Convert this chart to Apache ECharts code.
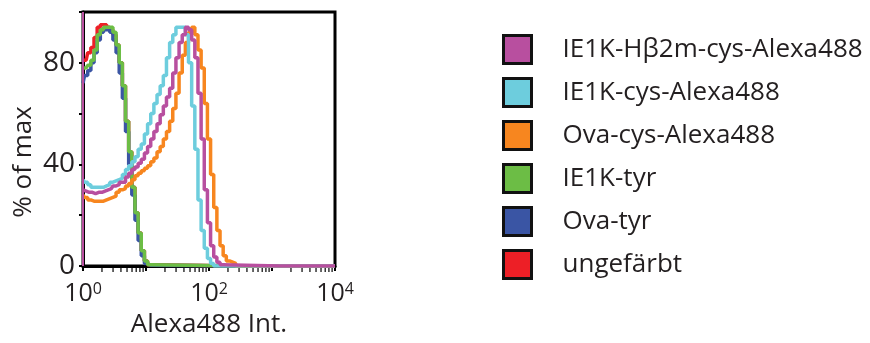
<!DOCTYPE html>
<html>
<head>
<meta charset="utf-8">
<script src="https://cdn.jsdelivr.net/npm/echarts@6/dist/echarts.min.js"></script>
<style>
  html, body { margin: 0; padding: 0; background: #fff; }
  #chart { width: 870px; height: 343px; }
</style>
</head>
<body>
<div id="chart"></div>
<script>
// histogram bins are spaced evenly in log10 units
const binsPerDecade = 20;
const xTickDecades = [0, 1, 2, 3, 4];
const minorTickMultipliers = [2, 3, 4, 5, 6, 7, 8, 9];

const ie1kHb2m = [30, 29.5, 29, 29, 28.5, 29, 29, 29.5, 30, 30.5, 31.5, 32, 33, 33, 35, 36.5, 38, 39, 40.5, 42,
  44.5, 47, 50, 53, 56, 59.5, 63, 66.5, 70, 76, 82, 88, 91, 94, 93, 89, 82, 68, 50, 30,
  17, 8, 3.5, 1.5, 0.5, 0];
const ie1kCys = [34, 33, 32, 31, 31, 31, 31, 31.5, 32, 33, 33.5, 34, 34.5, 36, 38, 39.5, 41, 43, 46, 48,
  52, 56, 60, 64, 67.5, 71, 75, 82, 88, 91, 94, 94, 94, 91, 80, 63, 46, 26, 14, 7,
  3, 1, 0];
const ovaCys = [28, 27, 26, 25.5, 25.5, 25.5, 25.5, 26, 26.5, 27, 27.5, 29, 30, 30.5, 31.5, 32.5, 34, 35.5, 36.5, 37.5,
  38.5, 39.5, 41, 42.5, 45, 47, 50, 53, 57, 62, 68, 76, 83, 88, 92, 94, 91, 85, 78, 64,
  50, 36, 23, 14, 8, 4, 2, 1.5, 1, 0];
const ie1kTyr = [78, 78, 79, 81, 85, 91, 93, 94, 94, 94, 92, 87, 80, 71, 57, 45, 31, 21, 13, 6,
  2, 0.5, 0];
const ovaTyr = [72, 75, 77, 80, 84, 89, 92, 93, 93, 92, 89, 84, 76, 66, 53, 40, 28, 18, 10, 4,
  1, 0.3, 0];
const ungefaerbt = [81, 81, 84, 86, 90, 94, 95, 95, 94, 93, 91, 87, 80, 71, 57, 45, 31, 21, 13, 6,
  2, 0.5, 0];

const colors = {
  magenta: "#b84f9f",
  cyan: "#6dcddd",
  orange: "#f7861f",
  green: "#6cbd45",
  blue: "#3a55a4",
  red: "#ed1f26",
};

const toPoints = (vals) =>
  vals.map((v, i) => [i / binsPerDecade, v]).concat([[xTickDecades[xTickDecades.length - 1], 0]]);

const minorTicks = [];
xTickDecades.slice(0, -1).forEach((d) => {
  minorTickMultipliers.forEach((m) => minorTicks.push([Math.log10(m) + d, 0]));
});

const histo = (name, vals, color, extra) =>
  Object.assign(
    {
      name,
      type: "line",
      step: "middle",
      data: toPoints(vals),
      showSymbol: false,
      symbol: "none",
      color,
      lineStyle: { color, width: 3.5 },
      itemStyle: { color },
      animation: false,
    },
    extra || {}
  );

const chart = echarts.init(document.getElementById("chart"));
const font = "'Open Sans', 'Noto Sans', sans-serif";
const ink = "#231f20";

chart.setOption({
  animation: false,
  textStyle: { fontFamily: font, color: ink },
  grid: {
    left: 83,
    right: 535,
    top: 12,
    bottom: 76,
    show: true,
    borderColor: "#000",
    borderWidth: 3,
  },
  legend: {
    orient: "vertical",
    left: 502,
    top: 34,
    padding: 0,
    itemWidth: 28,
    itemHeight: 28,
    itemGap: 12,
    icon: "rect",
    itemStyle: { borderColor: "#111", borderWidth: 3 },
    textStyle: { fontFamily: font, fontSize: 26, lineHeight: 28, color: ink, padding: [0, 0, 0, 26] },
    data: ["IE1K-Hβ2m-cys-Alexa488", "IE1K-cys-Alexa488", "Ova-cys-Alexa488", "IE1K-tyr", "Ova-tyr", "ungefärbt"],
  },
  xAxis: {
    type: "value",
    min: 0,
    max: 4,
    interval: 1,
    name: "Alexa488 Int.",
    nameLocation: "middle",
    nameGap: 46,
    nameTextStyle: { fontFamily: font, fontSize: 26, color: ink },
    splitLine: { show: false },
    axisLine: { show: true, lineStyle: { color: "#000", width: 3 } },
    axisTick: { show: true, length: 5, lineStyle: { color: "#000", width: 2 } },
    axisLabel: {
      margin: 15,
      formatter: (v) => (v % 2 === 0 ? "{b|10}{s|" + v + "}" : ""),
      rich: {
        b: { fontFamily: font, fontSize: 25, color: ink, lineHeight: 26 },
        s: { fontFamily: font, fontSize: 16, color: ink, verticalAlign: "top", lineHeight: 16 },
      },
    },
  },
  yAxis: {
    type: "value",
    min: 0,
    max: 100,
    interval: 20,
    name: "% of max",
    nameLocation: "middle",
    nameGap: 46,
    nameTextStyle: { fontFamily: font, fontSize: 26, color: ink, padding: [0, 46, 0, 0] },
    splitLine: { show: false },
    axisLine: { show: true, lineStyle: { color: "#000", width: 3 } },
    axisTick: { show: true, length: 4, lineStyle: { color: "#000", width: 2 } },
    axisLabel: {
      margin: 8,
      fontFamily: font,
      fontSize: 28,
      color: ink,
      formatter: (v) => (v % 40 === 0 && v < 100 ? String(v) : ""),
    },
  },
  series: [
    histo("ungefärbt", ungefaerbt, colors.red),
    histo("Ova-tyr", ovaTyr, colors.blue),
    histo("IE1K-tyr", ie1kTyr, colors.green),
    histo("Ova-cys-Alexa488", ovaCys, colors.orange),
    histo("IE1K-cys-Alexa488", ie1kCys, colors.cyan),
    histo("IE1K-Hβ2m-cys-Alexa488", ie1kHb2m, colors.magenta, {
      markLine: {
        silent: true,
        symbol: ["none", "none"],
        label: { show: false },
        lineStyle: { color: colors.magenta, width: 2, type: "solid" },
        data: [{ xAxis: 0 }],
      },
    }),
    {
      name: "minor ticks",
      type: "scatter",
      data: minorTicks,
      symbol: "rect",
      symbolSize: [1.5, 4],
      symbolOffset: [0, 4],
      itemStyle: { color: "#000" },
      silent: true,
      clip: false,
      z: 1,
    },
  ],
});
</script>
</body>
</html>
